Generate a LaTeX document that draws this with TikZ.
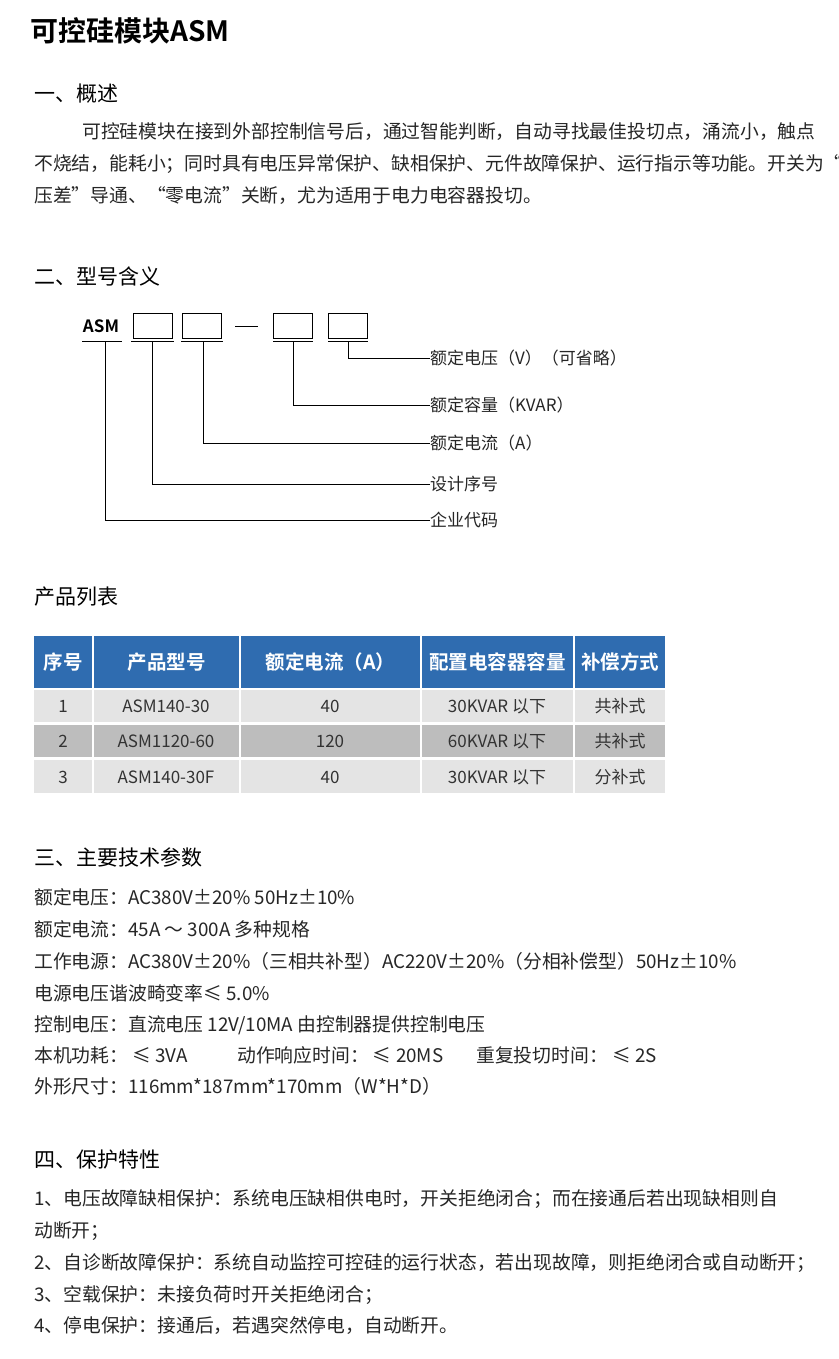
\documentclass[tikz,border=0pt]{standalone}
\usepackage{fontspec}
\setmainfont{Noto Sans CJK SC}
\newfontfamily\cjkb{Noto Sans CJK SC Bold}
\begin{document}
\begin{tikzpicture}[x=1pt,y=-1pt,
  txt/.style={anchor=base west,inner sep=0pt,font=\fontsize{18.8}{20}\selectfont,text=black!85},
  head/.style={anchor=base west,inner sep=0pt,font=\fontsize{21}{24}\selectfont,text=black},
  lab/.style={anchor=west,inner sep=0pt,font=\fontsize{17}{20}\selectfont,text=black!85},
  codebox/.style={draw=black,line width=0.9pt,minimum width=39pt,minimum height=25pt,inner sep=0pt},
  ln/.style={line width=0.8pt,black},
  cellt/.style={font=\fontsize{17}{20}\selectfont,text=black!80,inner sep=0pt}]
\definecolor{hdblue}{HTML}{2F6CB0}
\definecolor{rowl}{HTML}{E4E4E4}
\definecolor{rowd}{HTML}{BDBDBD}
\useasboundingbox[fill=white] (0,0) rectangle (838,1359);

\node[anchor=base west,inner sep=0pt,font=\cjkb\fontsize{28}{32}\selectfont] (title) at (30,42) {可控硅模块ASM};

% section 1
\node[head] (h1) at (34,102) {一、概述};
\node[txt] (p1) at (82,139) {可控硅模块在接到外部控制信号后，通过智能判断，自动寻找最佳投切点，涌流小，触点};
\node[txt] (p2) at (34,171) {不烧结，能耗小；同时具有电压异常保护、缺相保护、元件故障保护、运行指示等功能。开关为“零};
\node[txt] (p3) at (34,203) {压差”导通、“零电流”关断，尤为适用于电力电容器投切。};

% section 2
\node[head] (h2) at (34,284) {二、型号含义};
\node[anchor=base,inner sep=0pt,font=\cjkb\fontsize{17}{20}\selectfont] (asm) at (101,332) {ASM};
\node[codebox] (b1) at (152.5,325.5) {};
\node[codebox] (b2) at (201.5,325.5) {};
\node[codebox] (b3) at (292.5,325.5) {};
\node[codebox] (b4) at (347.5,325.5) {};
\draw[ln] (235,326) -- (258,326);
\draw[ln] (82,341) -- (122,341);
\draw[ln] (131,341) -- (174,341);
\draw[ln] (181,341) -- (223,341);
\draw[ln] (273,341) -- (313,341);
\draw[ln] (328,341) -- (368,341);
\node[lab] (l1) at (430,358) {额定电压（V）（可省略）};
\node[lab] (l2) at (430,405) {额定容量（KVAR）};
\node[lab] (l3) at (430,443) {额定电流（A）};
\node[lab] (l4) at (430,484) {设计序号};
\node[lab] (l5) at (430,520) {企业代码};
\draw[ln] (348,341) |- (l1.west);
\draw[ln] (293,341) |- (l2.west);
\draw[ln] (203,341) |- (l3.west);
\draw[ln] (152,341) |- (l4.west);
\draw[ln] (105,341) |- (l5.west);

% table
\node[head] (h3) at (34,604) {产品列表};
\foreach \xa/\xb/\t [count=\i] in {34/92/序号,94/239/产品型号,241/420/额定电流（A）,422/573/配置电容器容量,575/665/补偿方式}{
  \fill[hdblue] (\xa,636) rectangle (\xb,688);
  \node[text=white,font=\cjkb\fontsize{19.5}{22}\selectfont,inner sep=0pt] (hc\i) at ({(\xa+\xb)/2},662) {\t};
}
\foreach \ya/\yb/\c in {690/722/rowl,725/757/rowd,760/793/rowl}{
  \foreach \xa/\xb in {34/92,94/239,241/420,422/573,575/665}{
    \fill[\c] (\xa,\ya) rectangle (\xb,\yb);
  }
}
\foreach \y/\a/\b/\c/\d/\e [count=\k] in {706/1/ASM140-30/40/30KVAR 以下/共补式,741/2/ASM1120-60/120/60KVAR 以下/共补式,777/3/ASM140-30F/40/30KVAR 以下/分补式}{
  \node[cellt] (ca\k) at (63,\y) {\a};
  \node[cellt] (cb\k) at (166,\y) {\b};
  \node[cellt] (cc\k) at (330,\y) {\c};
  \node[cellt] (cd\k) at (497,\y) {\d};
  \node[cellt] (ce\k) at (620,\y) {\e};
}

% section 3
\node[head] (h4) at (34,865) {三、主要技术参数};
\node[txt] (q1) at (34,904) {额定电压：AC380V±20\% 50Hz±10\%};
\node[txt] (q2) at (34,936) {额定电流：45A ～ 300A 多种规格};
\node[txt] (q3) at (34,968) {工作电源：AC380V±20\%（三相共补型）AC220V±20\%（分相补偿型）50Hz±10\%};
\node[txt] (q4) at (34,1000) {电源电压谐波畸变率≤ 5.0\%};
\node[txt] (q5) at (34,1031) {控制电压：直流电压 12V/10MA 由控制器提供控制电压};
\node[txt] (q6a) at (34,1062) {本机功耗： ≤ 3VA};
\node[txt] (q6b) at (237,1062) {动作响应时间： ≤ 20MS};
\node[txt] (q6c) at (476,1062) {重复投切时间： ≤ 2S};
\node[txt] (q7) at (34,1093) {外形尺寸：116mm*187mm*170mm（W*H*D）};

% section 4
\node[head] (h5) at (34,1167) {四、保护特性};
\node[txt] (r1) at (34,1205) {1、电压故障缺相保护：系统电压缺相供电时，开关拒绝闭合；而在接通后若出现缺相则自};
\node[txt] (r2) at (34,1237) {动断开；};
\node[txt] (r3) at (34,1269) {2、自诊断故障保护：系统自动监控可控硅的运行状态，若出现故障，则拒绝闭合或自动断开；};
\node[txt] (r4) at (34,1301) {3、空载保护：未接负荷时开关拒绝闭合；};
\node[txt] (r5) at (34,1332) {4、停电保护：接通后，若遇突然停电，自动断开。};
\end{tikzpicture}
\end{document}
